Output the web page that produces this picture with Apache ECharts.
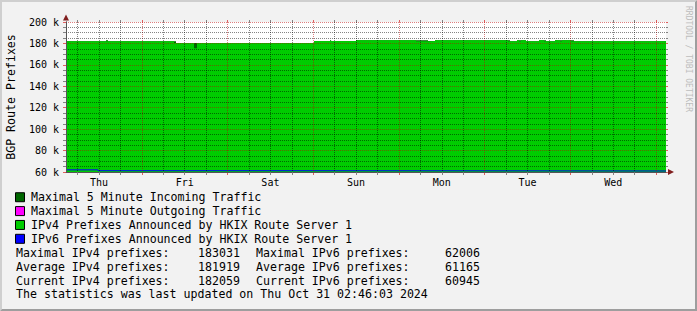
<!DOCTYPE html>
<html><head><meta charset="utf-8">
<script src="https://cdn.jsdelivr.net/npm/echarts@6/dist/echarts.min.js"></script>
<style>html,body{margin:0;padding:0;background:#f2f2f2;}#c{width:697px;height:311px;}</style>
</head><body><div id="c"></div>
<script>
// Time in hours; 0 = Thursday 00:00 of the first day shown.
const timeStart = 2.77;
const timeEnd = 170.77;
const dayLabels = ['Thu', 'Fri', 'Sat', 'Sun', 'Mon', 'Tue', 'Wed'];
const dayLabelHours = [12, 36, 60, 84, 108, 132, 156];
const minorGridHours = [6, 12, 18, 30, 36, 42, 54, 60, 66, 78, 84, 90, 102, 108, 114, 126, 132, 138, 150, 156, 162];
const majorGridHours = [24, 48, 72, 96, 120, 144, 168];

// IPv4 (step series: value holds from this hour until the next hour)
const ipv4Hours = [2.77, 13.97, 14.53, 33.01, 33.57, 38.61, 39.45, 72.21, 76.69, 77.0, 83.97, 100.77, 104.13, 106.09, 126.53, 127.09, 129.05, 129.61, 130.17, 131.57, 135.21, 136.61, 137.17, 139.69, 141.09, 141.65, 144.17, 145.01, 170.77];
const ipv4Avg = [182100, 182100, 182100, 180300, 180300, 175500, 180300, 182200, 182200, 182200, 183000, 182100, 182200, 182900, 182100, 182100, 182900, 182100, 182900, 182100, 182900, 182100, 182100, 182900, 182100, 182900, 182100, 182059, 182059];
const ipv4Max = [182100, 183000, 182100, 182100, 180300, 180300, 180300, 182200, 183000, 182200, 183000, 183031, 182200, 182900, 183000, 182100, 182900, 183000, 182900, 182100, 182900, 183000, 182100, 182900, 183000, 182900, 183000, 182059, 182059];

// IPv6
const ipv6Hours = [2.77, 11.73, 60, 120, 170.77];
const ipv6Vals = [62006, 61200, 61100, 60950, 60945];

const seriesNames = [
  'Maximal 5 Minute Incoming Traffic',
  'Maximal 5 Minute Outgoing Traffic',
  'IPv4 Prefixes Announced by HKIX Route Server 1',
  'IPv6 Prefixes Announced by HKIX Route Server 1'
];

const statsLabels = ['Maximal IPv4 prefixes:', 'Average IPv4 prefixes:', 'Current IPv4 prefixes:'];
const statsV4 = ['183031', '181919', '182059'];
const statsLabels6 = ['Maximal IPv6 prefixes:', 'Average IPv6 prefixes:', 'Current IPv6 prefixes:'];
const statsV6 = ['62006', '61165', '60945'];
const updateLine = 'The statistics was last updated on Thu Oct 31 02:46:03 2024';

const MONO = '"DejaVu Sans Mono", monospace';
const GRID = 'rgba(0,0,0,0.48)';
const MGRID = 'rgba(190,0,0,0.5)';
const TICK = 'rgba(120,120,120,0.9)';
const MTICK = 'rgba(222,79,79,0.9)';

const pair = (hs, vs) => hs.map((h, i) => [h, vs[i]]);

const graphics = [
  { type: 'polygon', silent: true, shape: { points: [[0,0],[697,0],[695,2],[2,2],[2,309],[0,311]] }, style: { fill: '#cfcfcf' } },
  { type: 'polygon', silent: true, shape: { points: [[697,0],[697,311],[0,311],[2,309],[695,309],[695,2]] }, style: { fill: '#9e9e9e' } },
  { type: 'text', silent: true, x: 688, y: 59, rotation: -Math.PI / 2,
    style: { text: 'RRDTOOL / TOBI OETIKER', font: '8px ' + MONO, fill: '#bdbdbd', align: 'center', verticalAlign: 'middle' } }
];
const rowY = [252.7, 266.6, 280.5];
statsLabels.forEach((t, i) => {
  graphics.push({ type: 'text', silent: true, x: 16, y: rowY[i], style: { text: t, font: '11.6px ' + MONO, fill: '#000', align: 'left', verticalAlign: 'middle' } });
  graphics.push({ type: 'text', silent: true, x: 240, y: rowY[i], style: { text: statsV4[i], font: '11.6px ' + MONO, fill: '#000', align: 'right', verticalAlign: 'middle' } });
  graphics.push({ type: 'text', silent: true, x: 256, y: rowY[i], style: { text: statsLabels6[i], font: '11.6px ' + MONO, fill: '#000', align: 'left', verticalAlign: 'middle' } });
  graphics.push({ type: 'text', silent: true, x: 480, y: rowY[i], style: { text: statsV6[i], font: '11.6px ' + MONO, fill: '#000', align: 'right', verticalAlign: 'middle' } });
});
graphics.push({ type: 'text', silent: true, x: 16, y: 294.3, style: { text: updateLine, font: '11.6px ' + MONO, fill: '#000', align: 'left', verticalAlign: 'middle' } });

const chart = echarts.init(document.getElementById('c'), null, { renderer: 'svg' });
chart.setOption({
  animation: false,
  backgroundColor: '#f2f2f2',
  grid: { left: 66, right: 31, top: 22, bottom: 139, show: true, backgroundColor: '#ffffff', borderWidth: 0,
          containLabel: false, outerBoundsMode: 'none' },
  legend: {
    orient: 'vertical', left: 15, top: 190.3, padding: 0,
    itemWidth: 9, itemHeight: 9, itemGap: 0, icon: 'rect', selectedMode: false,
    itemStyle: { borderColor: '#000', borderWidth: 1 },
    textStyle: { fontFamily: MONO, fontSize: 11.6, color: '#000', lineHeight: 13.86, padding: [0, 0, 0, 1.5] },
    data: seriesNames
  },
  xAxis: [
    {
      type: 'value', min: timeStart, max: timeEnd, z: 10, zlevel: 1,
      axisLine: { show: true, lineStyle: { color: '#555', width: 1 } },
      axisTick: { show: true, customValues: minorGridHours, length: 3, lineStyle: { color: TICK } },
      axisLabel: { customValues: dayLabelHours, formatter: v => dayLabels[dayLabelHours.indexOf(v)], fontFamily: MONO, fontSize: 10, color: '#000', margin: 5 },
      splitLine: { show: true, lineStyle: { color: GRID, type: [1, 1], width: 1 } }
    },
    {
      type: 'value', min: timeStart, max: timeEnd, position: 'bottom', z: 9, zlevel: 1,
      axisLine: { show: true, symbol: ['none', 'triangle'], symbolSize: [6, 6], symbolOffset: [0, 5], lineStyle: { color: 'rgb(128,31,31)', width: 1 } },
      axisLabel: { show: false },
      axisTick: { show: true, customValues: majorGridHours, length: 3, lineStyle: { color: MTICK } },
      splitLine: { show: true, lineStyle: { color: MGRID, type: [1, 1], width: 1 } }
    },
    {
      type: 'value', min: timeStart, max: timeEnd, position: 'top', z: 9, zlevel: 1,
      axisLine: { show: false }, axisLabel: { show: false }, splitLine: { show: false },
      axisTick: { show: true, customValues: minorGridHours, length: 2, lineStyle: { color: TICK } }
    },
    {
      type: 'value', min: timeStart, max: timeEnd, position: 'top', z: 9, zlevel: 1,
      axisLine: { show: false }, axisLabel: { show: false }, splitLine: { show: false },
      axisTick: { show: true, customValues: majorGridHours, length: 2, lineStyle: { color: MTICK } }
    }
  ],
  yAxis: [
    {
      type: 'value', min: 60000, max: 200000, interval: 20000, z: 10, zlevel: 1,
      name: 'BGP Route Prefixes', nameLocation: 'middle', nameGap: 49,
      nameTextStyle: { fontFamily: MONO, fontSize: 11.6, color: '#000' },
      axisLine: { show: true, lineStyle: { color: '#555', width: 1 } },
      axisTick: { show: true, length: 3, lineStyle: { color: MTICK } },
      minorTick: { show: true, splitNumber: 4, length: 3, lineStyle: { color: TICK } },
      axisLabel: { formatter: v => (v / 1000) + ' k', fontFamily: MONO, fontSize: 10, color: '#000', margin: 7 },
      splitLine: { show: true, lineStyle: { color: MGRID, type: [1, 1], width: 1 } },
      minorSplitLine: { show: true, lineStyle: { color: GRID, type: [1, 1], width: 1 } }
    },
    {
      type: 'value', min: 60000, max: 200000, position: 'left', z: 9, zlevel: 1,
      axisLine: { show: true, symbol: ['none', 'triangle'], symbolSize: [6, 6], symbolOffset: [0, 4.5], lineStyle: { color: 'rgb(128,31,31)', width: 1 } },
      axisLabel: { show: false }, axisTick: { show: false }, splitLine: { show: false }
    },
    {
      type: 'value', min: 60000, max: 200000, interval: 20000, position: 'right', z: 9, zlevel: 1,
      axisLine: { show: false }, axisLabel: { show: false }, splitLine: { show: false },
      axisTick: { show: true, length: 2, lineStyle: { color: MTICK } },
      minorTick: { show: true, splitNumber: 4, length: 2, lineStyle: { color: TICK } }
    }
  ],
  series: [
    { name: seriesNames[0], type: 'line', step: 'end', data: pair(ipv4Hours, ipv4Max), symbol: 'none', silent: true,
      lineStyle: { width: 0 }, itemStyle: { color: '#006600' }, areaStyle: { color: '#006600', opacity: 1, origin: 'start' }, z: 1 },
    { name: seriesNames[1], type: 'line', data: [], symbol: 'none', itemStyle: { color: '#ff00ff' } },
    { name: seriesNames[2], type: 'line', step: 'end', data: pair(ipv4Hours, ipv4Avg), symbol: 'none', silent: true,
      lineStyle: { width: 0 }, itemStyle: { color: '#00cc00' }, areaStyle: { color: '#00cc00', opacity: 1, origin: 'start' }, z: 2 },
    { name: seriesNames[3], type: 'line', step: 'end', data: pair(ipv6Hours, ipv6Vals), symbol: 'none', silent: true,
      lineStyle: { width: 1, color: '#0000ff' }, itemStyle: { color: '#0000ff' }, z: 3 }
  ],
  graphic: graphics
});
</script></body></html>
